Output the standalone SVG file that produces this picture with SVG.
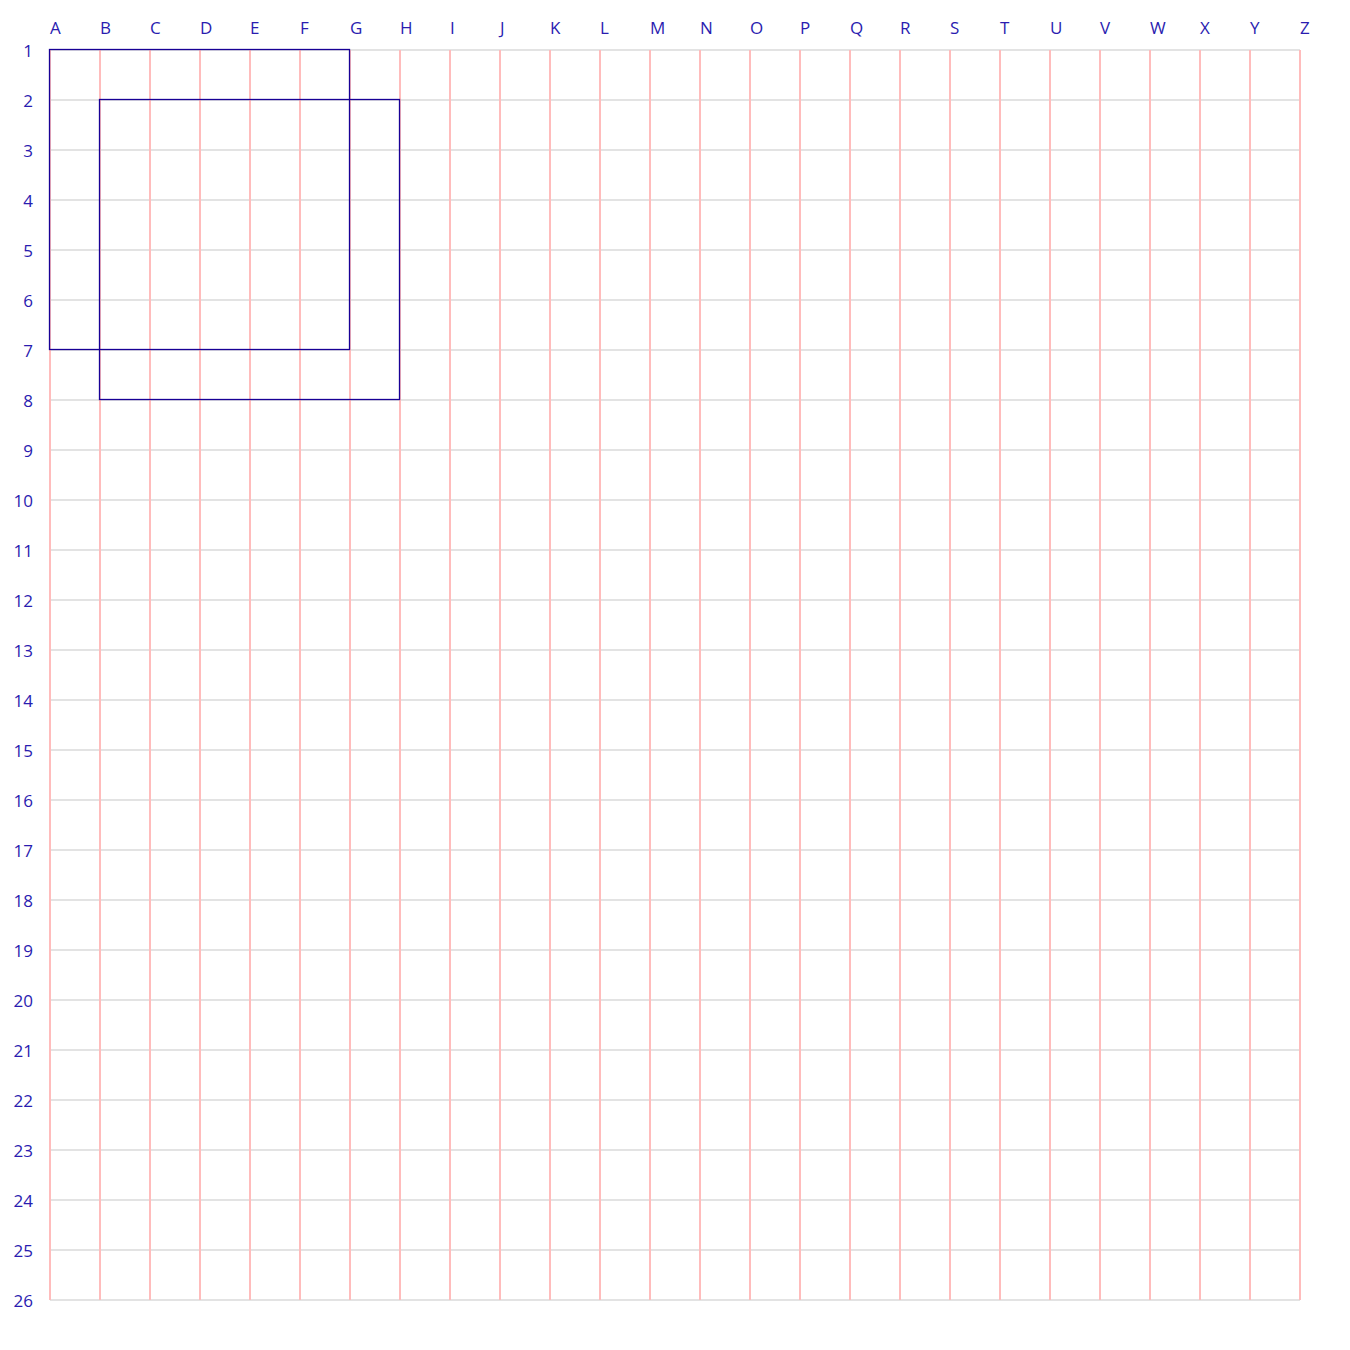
<svg xmlns="http://www.w3.org/2000/svg" width="1350" height="1350" viewBox="0 0 1350 1350">
<style>
.h{stroke:#e3e3e3;stroke-width:2}
.v{stroke:#ffbcbc;stroke-width:2}
.lbl{font-family:"Open Sans","Liberation Sans",sans-serif;font-size:17px;fill:#2a1cb0}
.row{text-anchor:end}
.box{fill:none;stroke:#180096;stroke-width:1.3}
</style>
<rect width="1350" height="1350" fill="#fff"/>
<g id="hlines">
<path class="h" d="M50 50H1300M50 100H1300M50 150H1300M50 200H1300M50 250H1300M50 300H1300M50 350H1300M50 400H1300M50 450H1300M50 500H1300M50 550H1300M50 600H1300M50 650H1300M50 700H1300M50 750H1300M50 800H1300M50 850H1300M50 900H1300M50 950H1300M50 1000H1300M50 1050H1300M50 1100H1300M50 1150H1300M50 1200H1300M50 1250H1300M50 1300H1300"/>
</g>
<g id="vlines">
<path class="v" d="M50 50V1300M100 50V1300M150 50V1300M200 50V1300M250 50V1300M300 50V1300M350 50V1300M400 50V1300M450 50V1300M500 50V1300M550 50V1300M600 50V1300M650 50V1300M700 50V1300M750 50V1300M800 50V1300M850 50V1300M900 50V1300M950 50V1300M1000 50V1300M1050 50V1300M1100 50V1300M1150 50V1300M1200 50V1300M1250 50V1300M1300 50V1300"/>
</g>
<g id="collabels" class="lbl">
<text x="50" y="34">A</text><text x="100" y="34">B</text><text x="150" y="34">C</text><text x="200" y="34">D</text><text x="250" y="34">E</text><text x="300" y="34">F</text><text x="350" y="34">G</text><text x="400" y="34">H</text><text x="450" y="34">I</text><text x="500" y="34">J</text><text x="550" y="34">K</text><text x="600" y="34">L</text><text x="650" y="34">M</text><text x="700" y="34">N</text><text x="750" y="34">O</text><text x="800" y="34">P</text><text x="850" y="34">Q</text><text x="900" y="34">R</text><text x="950" y="34">S</text><text x="1000" y="34">T</text><text x="1050" y="34">U</text><text x="1100" y="34">V</text><text x="1150" y="34">W</text><text x="1200" y="34">X</text><text x="1250" y="34">Y</text><text x="1300" y="34">Z</text>
</g>
<g id="rowlabels" class="lbl row">
<text x="33" y="57">1</text><text x="33" y="107">2</text><text x="33" y="157">3</text><text x="33" y="207">4</text><text x="33" y="257">5</text><text x="33" y="307">6</text><text x="33" y="357">7</text><text x="33" y="407">8</text><text x="33" y="457">9</text><text x="33" y="507">10</text><text x="33" y="557">11</text><text x="33" y="607">12</text><text x="33" y="657">13</text><text x="33" y="707">14</text><text x="33" y="757">15</text><text x="33" y="807">16</text><text x="33" y="857">17</text><text x="33" y="907">18</text><text x="33" y="957">19</text><text x="33" y="1007">20</text><text x="33" y="1057">21</text><text x="33" y="1107">22</text><text x="33" y="1157">23</text><text x="33" y="1207">24</text><text x="33" y="1257">25</text><text x="33" y="1307">26</text>
</g>
<g id="box1"><rect class="box" x="49.5" y="49.5" width="300" height="300"/></g>
<g id="box2"><rect class="box" x="99.5" y="99.5" width="300" height="300"/></g>
</svg>
